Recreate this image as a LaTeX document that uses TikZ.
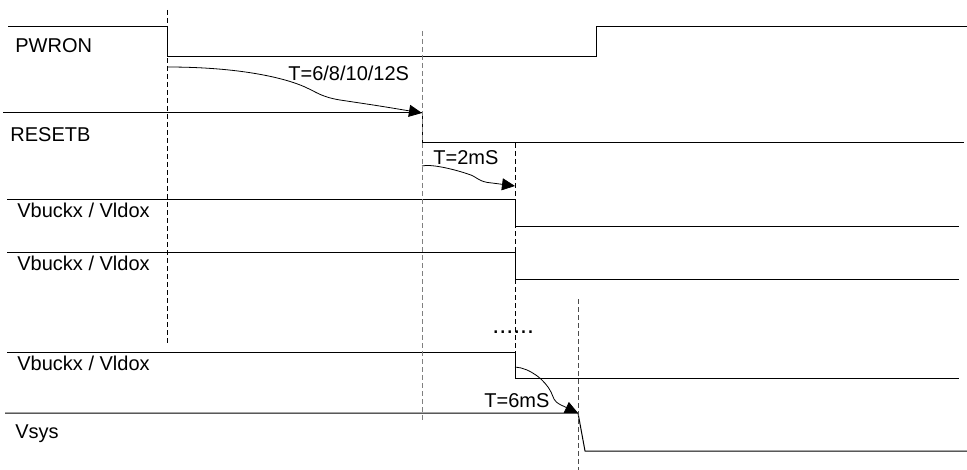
\documentclass[tikz,border=0pt]{standalone}
\usepackage{fontspec}
\setmainfont{Liberation Sans}
\usetikzlibrary{positioning,arrows.meta}

\tikzset{
  wave/.style={line width=0.5pt, line join=miter},
  marker/.style={line width=0.5pt, dash pattern=on 2.5pt off 1.5pt},
  delay/.style={line width=0.4pt, -{Triangle[length=6.5pt,width=6pt]}},
  siglabel/.style={anchor=base west, inner sep=0pt, font=\fontsize{10}{12}\selectfont},
}

\begin{document}
\begin{tikzpicture}[x=0.5pt,y=-0.5pt]
  \useasboundingbox (0,0) rectangle (967,470);

  % Labels
  \node[siglabel] (pwron)  at (15,53)  {PWRON};
  \node[siglabel] (resetb) at (10,142) {RESETB};
  \node[siglabel] (vout1)  at (17,217) {Vbuckx / Vldox};
  \node[siglabel] (vout2)  at (17,270) {Vbuckx / Vldox};
  \node[siglabel] (vout3)  at (17,370) {Vbuckx / Vldox};
  \node[siglabel] (vsys)   at (15,438) {Vsys};
  \node[siglabel, font=\fontsize{12.5}{14}\selectfont] (more) at (492,333) {......};

  % Waveforms
  \draw[wave] (8,27) -- (167,27) -- (167,57) -- (596,57) -- (596,27) -- (967,27);
  \draw[wave] (3,113) -- (422,113) -- (422,143) -- (964,143);
  \draw[wave] (7,199) -- (515,199) -- (515,226) -- (959,226);
  \draw[wave] (7,252) -- (515,252) -- (515,279) -- (959,279);
  \draw[wave] (7,352) -- (515,352) -- (515,378) -- (959,378);
  \draw[wave] (5,413) -- (578,413) -- (585,451) -- (967,451);

  % Markers
  \draw[marker] (167,10) -- (167,346);
  \draw[marker, gray] (422,31) -- (422,420);
  \draw[marker] (515,143) -- (515,367);
  \draw[marker, black!70] (578,299) -- (578,470);

  % Delays
  \coordinate (d1s) at (167,67);
  \coordinate (d1e) at (422,113);
  \coordinate (d2s) at (422,166);
  \coordinate (d2e) at (515,186);
  \coordinate (d3s) at (515,367);
  \coordinate (d3e) at (578,413);

  \draw[delay] (d1s) .. controls (240,67) and (285,78) .. (305,87)
    .. controls (318,93) and (322,97) .. (340,100) .. controls (380,106) .. (d1e);
  \draw[delay] (d2s) .. controls (430,164) and (450,168) .. (468,174)
    .. controls (478,177) and (478,182) .. (492,183) -- (d2e);
  \draw[delay] (d3s) .. controls (530,368) and (545,380) .. (551,392)
    .. controls (554,398) and (553,401) .. (561,405) -- (d3e);

  \node[siglabel] (t1) at (288,81)  {T=6/8/10/12S};
  \node[siglabel] (t2) at (433,165) {T=2mS};
  \node[siglabel] (t3) at (484,407) {T=6mS};

\end{tikzpicture}
\end{document}
